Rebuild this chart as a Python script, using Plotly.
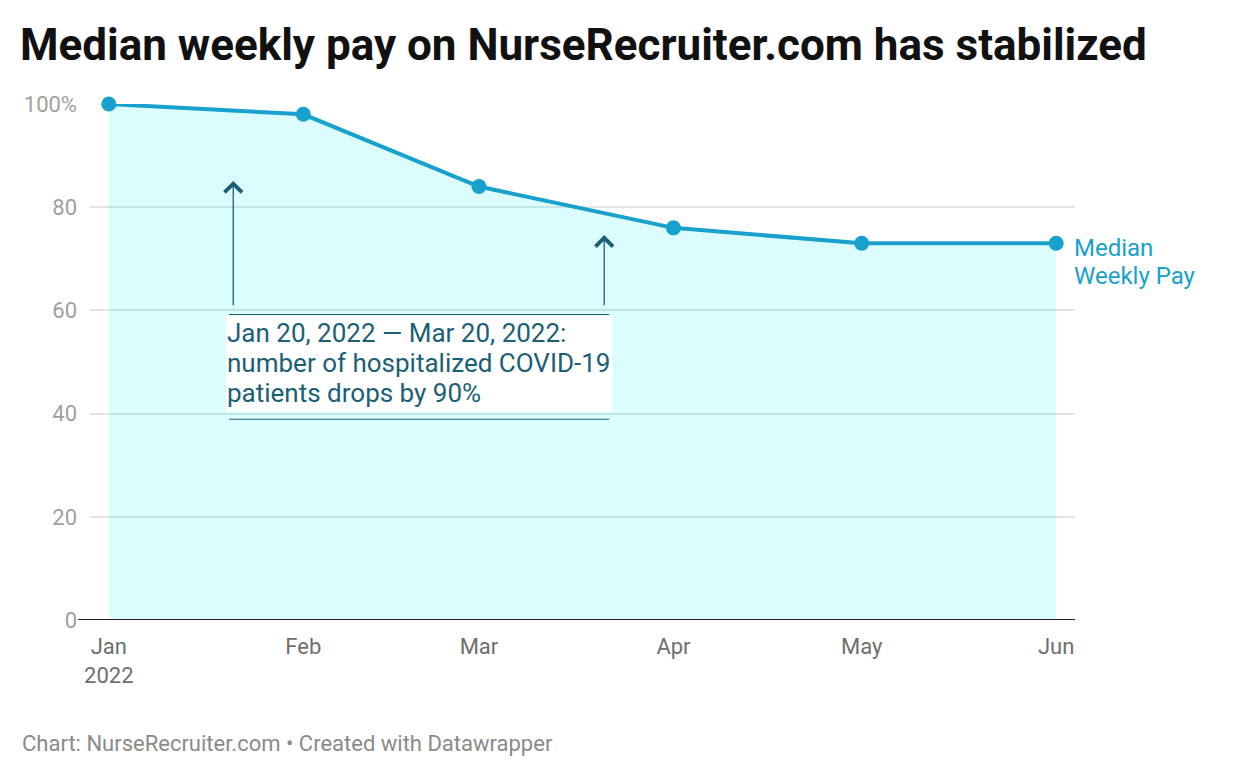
import plotly.graph_objects as go

# data
months = ["2022-01-01", "2022-02-01", "2022-03-01", "2022-04-01", "2022-05-01", "2022-06-01"]
pay_index = [100, 98, 84, 76, 73, 73]
tick_labels = ["Jan<br>2022", "Feb", "Mar", "Apr", "May", "Jun"]
y_ticks = [0, 20, 40, 60, 80, 100]
y_tick_labels = ["0", "20", "40", "60", "80", "100%"]

covid_start = "2022-01-20"
covid_end = "2022-03-20"
note_lines = ["Jan 20, 2022 — Mar 20, 2022:",
              "number of hospitalized COVID-19",
              "patients drops by 90%"]
series_label = ["Median", "Weekly Pay"]

line_color = "#18a1cd"
note_color = "#1a5f76"
font = "Roboto"

# page body adds an 8px margin, so shift everything back by that
OFF = 8

fig = go.Figure()
fig.add_trace(go.Scatter(
    x=months, y=pay_index, mode="lines+markers",
    line=dict(color=line_color, width=4),
    marker=dict(size=15, color=line_color),
    fill="tozeroy", fillcolor="rgba(0,240,240,0.14)",
    cliponaxis=False, hoverinfo="x+y",
))

# arrows for the covid period (datawrapper draws them at the end of the day)
for day, head in [(covid_start + " 20:00", 85.1), (covid_end + " 23:00", 74.6)]:
    fig.add_annotation(
        x=day, y=head, ax=day, ay=60.7, axref="x", ayref="y",
        text="", showarrow=True, arrowhead=4, arrowsize=2.6,
        arrowwidth=1.3, arrowcolor=note_color,
    )

# note box: white background, rule above and below
note_top = 59.2
fig.add_shape(type="rect", layer="above", x0="2022-01-19 17:00", x1="2022-03-22 06:00",
              y0=40.4, y1=59.0, line=dict(width=0), fillcolor="white")
for yv in [note_top, 38.9]:
    fig.add_shape(type="line", layer="above", x0="2022-01-20 04:00", x1="2022-03-21 18:00",
                  y0=yv, y1=yv, line=dict(color=note_color, width=1))
for i, txt in enumerate(note_lines):
    fig.add_annotation(
        x=covid_start, y=note_top, xanchor="left", yanchor="middle",
        xshift=-3, yshift=-18 - 30 * i, text=txt, showarrow=False,
        font=dict(family=font, size=26, color=note_color),
    )

# series label
for i, txt in enumerate(series_label):
    fig.add_annotation(
        x=months[-1], y=pay_index[-1], xanchor="left", yanchor="middle",
        xshift=16, yshift=-5 - 28 * i, text=txt, showarrow=False,
        font=dict(family=font, size=24, color=line_color),
    )

# baseline
fig.add_shape(type="line", xref="paper", yref="y", x0=-0.012, x1=1, y0=0, y1=0,
              line=dict(color="#222222", width=2))

fig.update_layout(
    width=1240, height=776,
    margin=dict(l=90 - OFF, r=165 + OFF, t=104 - OFF, b=156 + OFF),
    plot_bgcolor="white", paper_bgcolor="white",
    showlegend=False,
    font=dict(family=font),
    title=dict(
        text="<b>Median weekly pay on NurseRecruiter.com has stabilized</b>",
        x=(20 - OFF) / 1240, xanchor="left", y=1 - (45 - OFF) / 776, yanchor="middle",
        font=dict(family=font, size=44, color="#111111"),
    ),
)
fig.update_xaxes(
    type="date", range=["2021-12-29", "2022-06-04"],
    tickvals=months, ticktext=tick_labels, showgrid=False, zeroline=False,
    showline=False, ticks="", ticklabelstandoff=11,
    tickfont=dict(size=22, color="#6e6e6e"),
)
fig.update_yaxes(
    range=[0, 100], tickvals=y_ticks, ticktext=y_tick_labels,
    showgrid=True, gridcolor="#e3e3e3", gridwidth=1.5, zeroline=False,
    ticks="", ticklabelstandoff=12, tickfont=dict(size=22, color="#a0a0a0"),
)

fig.add_annotation(
    x=(20 - 90) / 985, y=(620 - 743) / 516, xref="paper", yref="paper",
    xanchor="left", yanchor="middle", showarrow=False,
    text="Chart: NurseRecruiter.com • Created with Datawrapper",
    font=dict(family=font, size=22, color="#8a8a8a"),
)

fig.write_html("out.html")
